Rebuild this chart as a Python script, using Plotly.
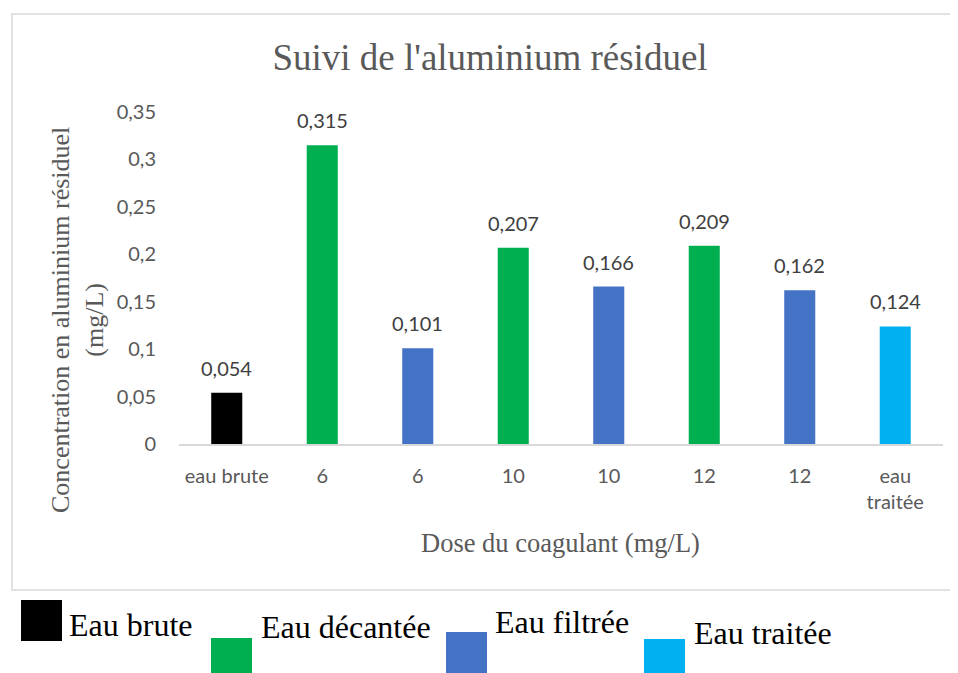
import plotly.graph_objects as go

# ---- data ----
categories = ["eau brute", "6", "6", "10", "10", "12", "12", "eau<br>traitée"]
values = [0.054, 0.315, 0.101, 0.207, 0.166, 0.209, 0.162, 0.124]
series = ["Eau brute", "Eau décantée", "Eau filtrée", "Eau décantée",
          "Eau filtrée", "Eau décantée", "Eau filtrée", "Eau traitée"]
series_names = ["Eau brute", "Eau décantée", "Eau filtrée", "Eau traitée"]
series_colors = {"Eau brute": "#000000", "Eau décantée": "#00B050",
                 "Eau filtrée": "#4472C4", "Eau traitée": "#00B0F0"}
y_ticks = [0, 0.05, 0.1, 0.15, 0.2, 0.25, 0.3, 0.35]

# page body has an 8px margin: work in window pixels, convert to figure pixels
OFF = 8
W, H = 958 - OFF, 673 - OFF
PX0, PX1, PY0, PY1 = 179, 943, 112, 444   # plot area in window pixels
L, T = PX0 - OFF, PY0 - OFF
R, B = W - (PX1 - OFF), H - (PY1 - OFF)
PW, PH = PX1 - PX0, PY1 - PY0

def px(x):
    return (x - PX0) / PW

def py(y):
    return (PY1 - y) / PH

xs = list(range(len(categories)))
fig = go.Figure()
fig.add_trace(go.Bar(
    x=xs, y=values,
    marker=dict(color=[series_colors[s] for s in series], line=dict(width=0)),
    width=0.325, showlegend=False, hoverinfo="y",
))

annotations = []
for xv, v in zip(xs, values):
    annotations.append(dict(
        x=xv, y=v, xref="x", yref="y", text=f"{v:.3f}".replace(".", ","),
        showarrow=False, yanchor="middle", yshift=25,
        font=dict(family="Lato", size=20, color="#404040")))

# axis titles
annotations.append(dict(
    x=px(560), y=py(543), xref="paper", yref="paper",
    text="Dose du coagulant (mg/L)", showarrow=False,
    font=dict(family="Liberation Serif", size=26.5, color="#595959"),
    xanchor="center", yanchor="middle"))
annotations.append(dict(
    x=px(77), y=py(320), xref="paper", yref="paper",
    text="Concentration en aluminium résiduel<br>(mg/L)", showarrow=False,
    textangle=-90,
    font=dict(family="Liberation Serif", size=26, color="#595959"),
    xanchor="center", yanchor="middle"))

# custom legend (staggered as in the reference)
legend_sq = {"Eau brute": (21, 600), "Eau décantée": (211, 638),
             "Eau filtrée": (446, 632), "Eau traitée": (644, 639)}
legend_tx = {"Eau brute": (67, 625), "Eau décantée": (259, 627),
             "Eau filtrée": (493, 622), "Eau traitée": (692, 633)}
shapes = [dict(type="rect", xref="paper", yref="paper",
               x0=px(12), x1=px(990), y0=py(590), y1=py(14),
               line=dict(color="#D9D9D9", width=1.5), fillcolor="rgba(0,0,0,0)",
               layer="below")]
for name in series_names:
    sx, sy = legend_sq[name]
    shapes.append(dict(type="rect", xref="paper", yref="paper",
                       x0=px(sx), x1=px(sx + 41), y0=py(sy + 41), y1=py(sy),
                       line=dict(width=0), fillcolor=series_colors[name]))
    tx, ty = legend_tx[name]
    annotations.append(dict(
        x=px(tx), y=py(ty), xref="paper", yref="paper", text=name,
        showarrow=False, xanchor="left", yanchor="middle",
        font=dict(family="Liberation Serif", size=32, color="#000000")))

fig.update_layout(
    width=W, height=H,
    margin=dict(l=L, r=R, t=T, b=B, autoexpand=False),
    paper_bgcolor="white", plot_bgcolor="white",
    title=dict(text="Suivi de l'aluminium résiduel", x=(490 - OFF) / W,
               y=1 - (57 - OFF) / H, xanchor="center", yanchor="middle",
               font=dict(family="Liberation Serif", size=37, color="#595959")),
    xaxis=dict(tickmode="array", tickvals=xs, ticktext=categories,
               range=[-0.5, len(categories) - 0.5], showgrid=False,
               showline=True, linecolor="#D9D9D9", linewidth=1.5,
               ticks="", ticklabelstandoff=13, zeroline=False,
               tickfont=dict(family="Lato", size=20, color="#595959")),
    yaxis=dict(range=[0, 0.35], tickmode="array", tickvals=y_ticks,
               ticktext=[str(t).replace(".", ",") if t else "0" for t in y_ticks],
               showgrid=False, showline=False, zeroline=False, ticks="",
               ticklabelstandoff=22,
               tickfont=dict(family="Lato", size=20, color="#595959")),
    shapes=shapes, annotations=annotations, showlegend=False,
)

fig.write_html("out.html")
